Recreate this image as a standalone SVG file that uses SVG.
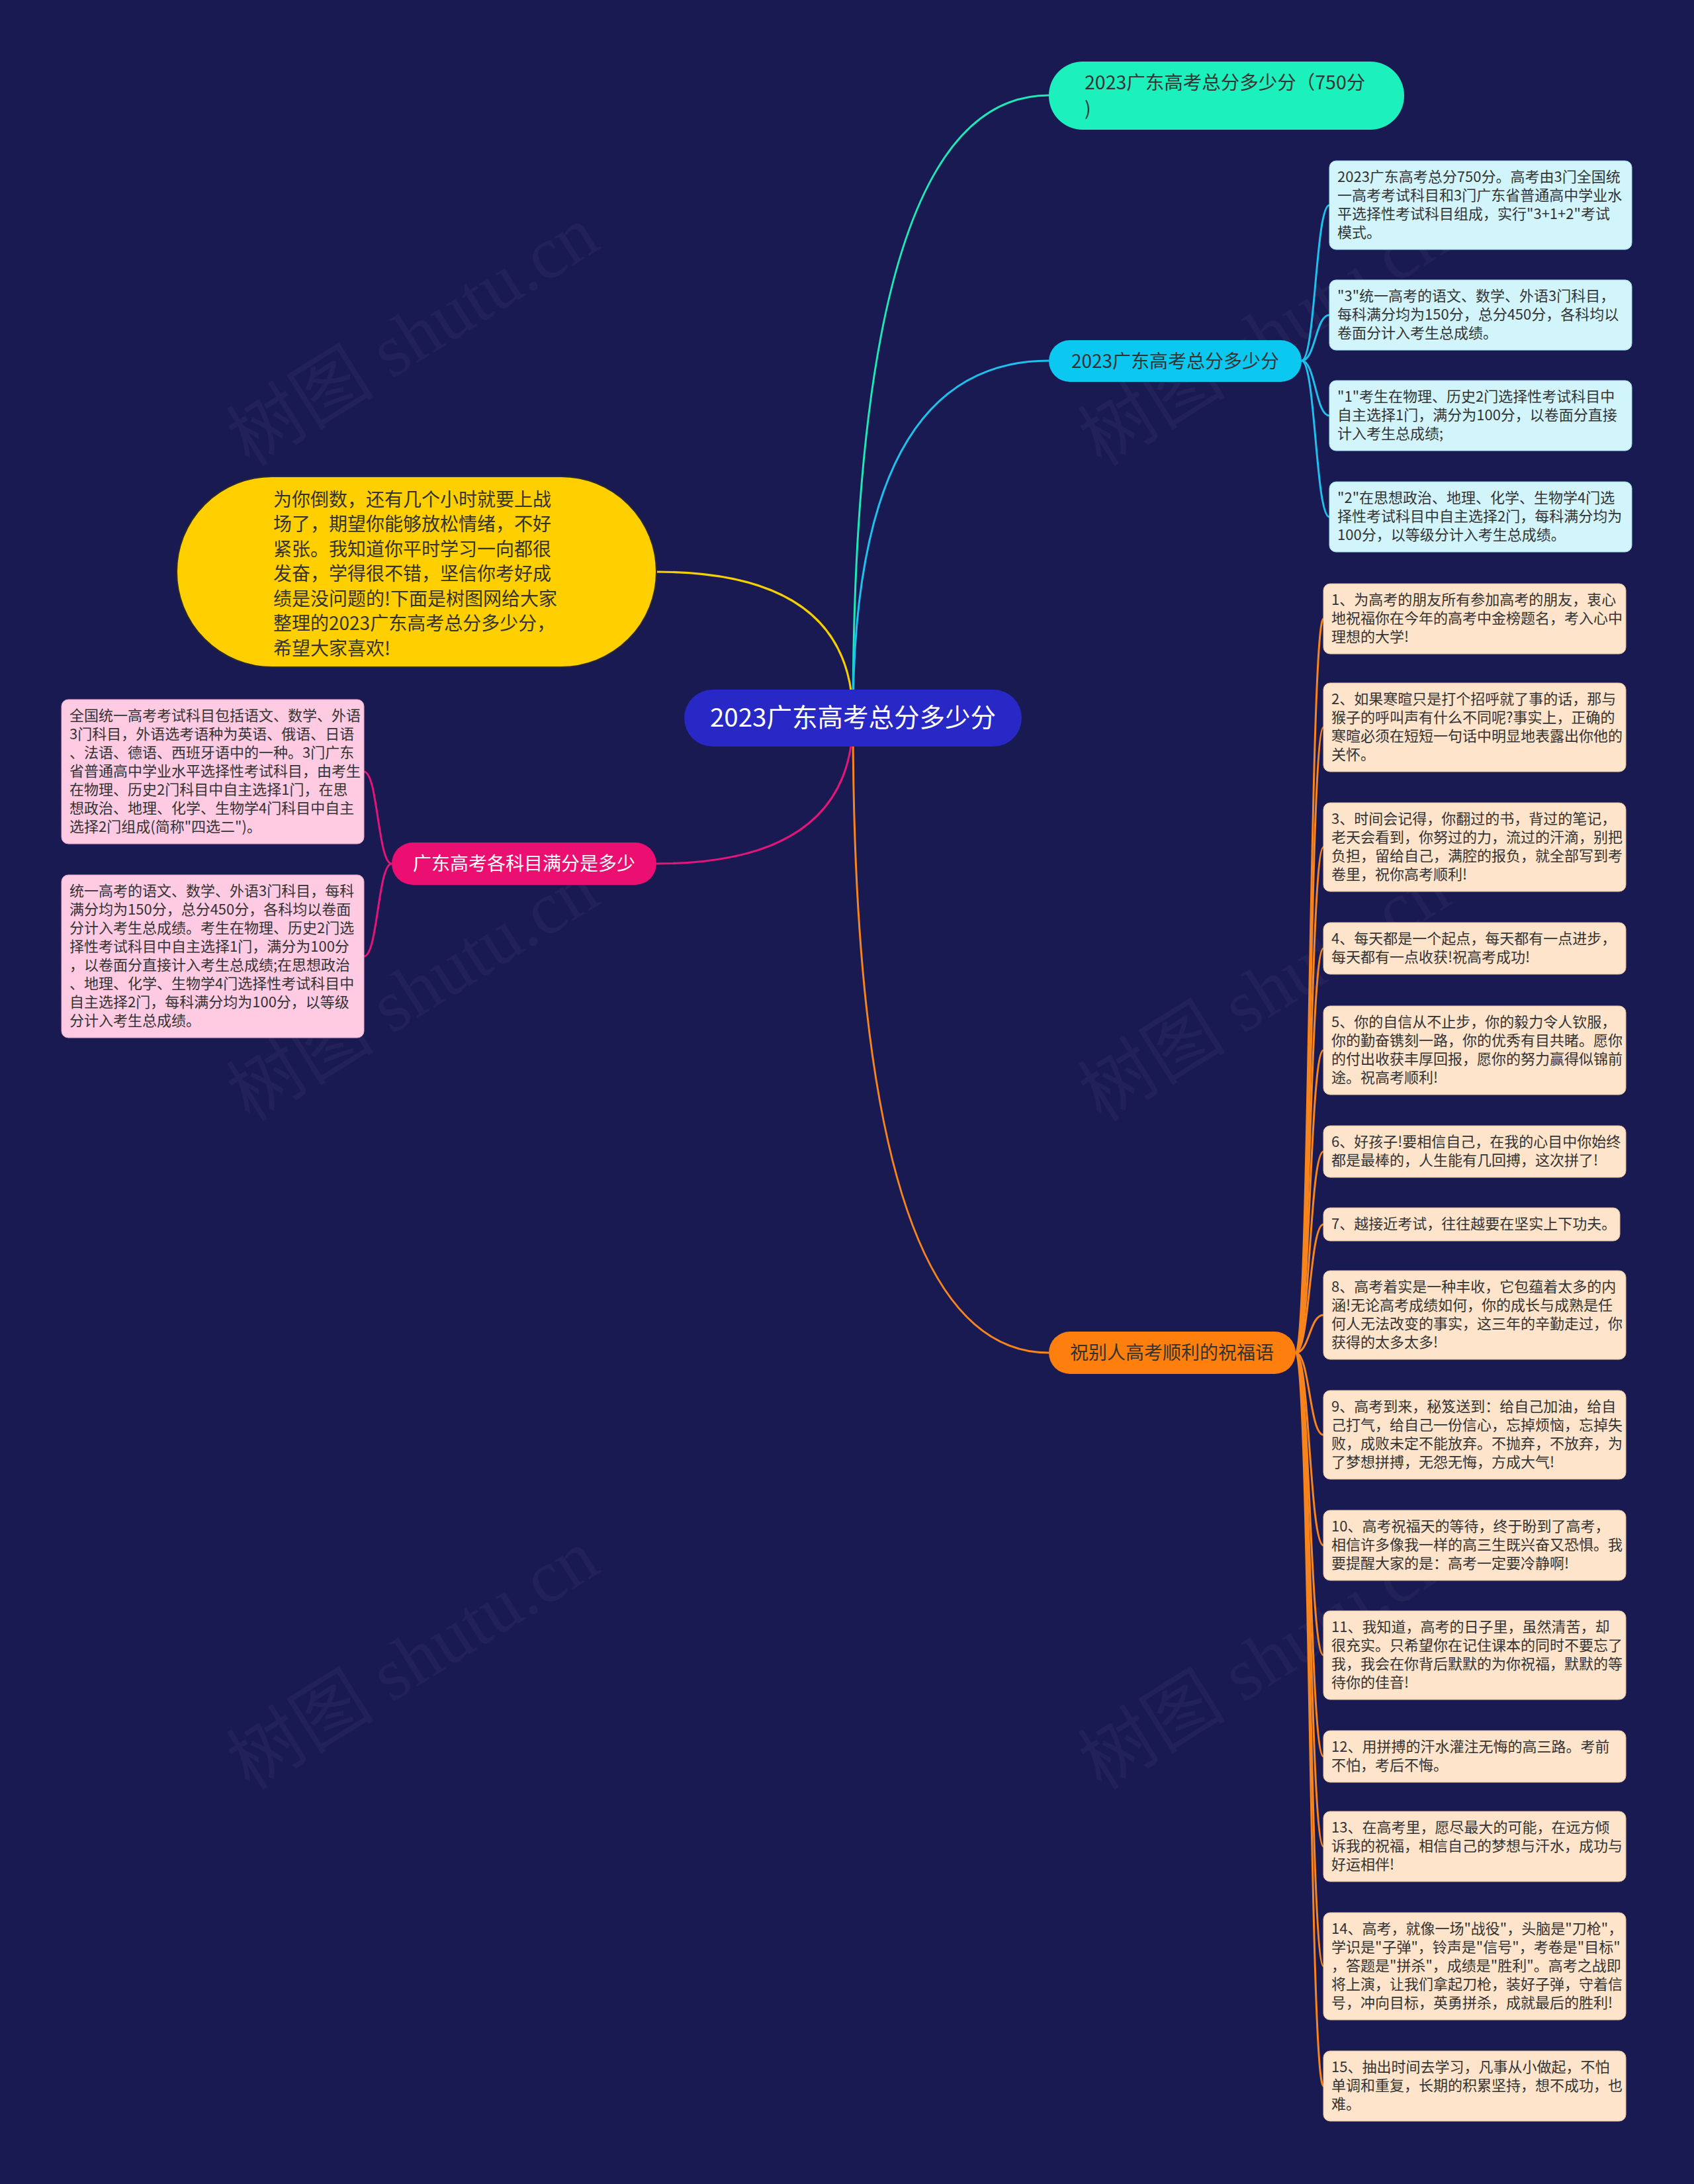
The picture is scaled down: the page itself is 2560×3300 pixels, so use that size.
<svg xmlns="http://www.w3.org/2000/svg" width="2560" height="3300" viewBox="0 0 2560 3300">
<style>
.wm{font-family:"Liberation Serif","Noto Sans CJK SC",serif;font-size:112px;fill:#ffffff;fill-opacity:0.04;text-anchor:middle}
.lt{font-family:"Noto Sans CJK SC","Noto Sans",sans-serif;font-size:22px;fill:#333333}
.l1{font-family:"Noto Sans CJK SC","Noto Sans",sans-serif;font-size:28px;text-anchor:middle}
.e{fill:none;stroke-width:3}
.cy{fill:#d2f5fc;stroke:#9edcec;stroke-width:1}
.pk{fill:#fecbe3;stroke:#e9a3c6;stroke-width:1}
.or{fill:#fde4cb;stroke:#e8c29c;stroke-width:1}
</style>
<rect x="0" y="0" width="2560" height="3300" fill="#1a1a52"/>
<g id="watermark">
<text class="wm" transform="translate(644 540) rotate(-32)">树图 shutu.cn</text>
<text class="wm" transform="translate(644 1530) rotate(-32)">树图 shutu.cn</text>
<text class="wm" transform="translate(644 2540) rotate(-32)">树图 shutu.cn</text>
<text class="wm" transform="translate(1931 540) rotate(-32)">树图 shutu.cn</text>
<text class="wm" transform="translate(1931 1530) rotate(-32)">树图 shutu.cn</text>
<text class="wm" transform="translate(1931 2540) rotate(-32)">树图 shutu.cn</text>
</g>
<g id="connectors">
<path class="e" stroke="#1de9b6" stroke-width="4" d="M1289 1085 Q1289 144 1585 144"/>
<path class="e" stroke="#1ec0ec" stroke-width="4" d="M1289 1085 Q1289 545 1585 545"/>
<path class="e" stroke="#f5d000" stroke-width="4" d="M1289 1085 Q1289 864 992 864"/>
<path class="e" stroke="#e3157a" stroke-width="4" d="M1289 1085 Q1289 1305 992 1305"/>
<path class="e" stroke="#f7841c" stroke-width="4" d="M1289 1085 Q1289 2044 1585 2044"/>
<g stroke="#1ec0ec">
<path class="e" d="M1967 545 C1988 545 1988 310 2009 310"/>
<path class="e" d="M1967 545 C1988 545 1988 476 2009 476"/>
<path class="e" d="M1967 545 C1988 545 1988 628 2009 628"/>
<path class="e" d="M1967 545 C1988 545 1988 781 2009 781"/>
</g>
<g stroke="#e3157a">
<path class="e" d="M592 1305 C571 1305 571 1166 550 1166"/>
<path class="e" d="M592 1305 C571 1305 571 1445 550 1445"/>
</g>
<g stroke="#f7841c">
<path class="e" d="M1958 2044 C1979 2044 1979 935 2000 935"/>
<path class="e" d="M1958 2044 C1979 2044 1979 1099 2000 1099"/>
<path class="e" d="M1958 2044 C1979 2044 1979 1280 2000 1280"/>
<path class="e" d="M1958 2044 C1979 2044 1979 1433 2000 1433"/>
<path class="e" d="M1958 2044 C1979 2044 1979 1587 2000 1587"/>
<path class="e" d="M1958 2044 C1979 2044 1979 1740 2000 1740"/>
<path class="e" d="M1958 2044 C1979 2044 1979 1850 2000 1850"/>
<path class="e" d="M1958 2044 C1979 2044 1979 1987 2000 1987"/>
<path class="e" d="M1958 2044 C1979 2044 1979 2168 2000 2168"/>
<path class="e" d="M1958 2044 C1979 2044 1979 2335 2000 2335"/>
<path class="e" d="M1958 2044 C1979 2044 1979 2501 2000 2501"/>
<path class="e" d="M1958 2044 C1979 2044 1979 2654 2000 2654"/>
<path class="e" d="M1958 2044 C1979 2044 1979 2790 2000 2790"/>
<path class="e" d="M1958 2044 C1979 2044 1979 2971 2000 2971"/>
<path class="e" d="M1958 2044 C1979 2044 1979 3152 2000 3152"/>
</g>
</g>
<g id="root">
<rect x="1034" y="1042" width="510" height="86" rx="43" fill="#2828c6"/>
<text x="1289" y="1098" font-family="Noto Sans CJK SC, Noto Sans, sans-serif" font-size="38.5" fill="#ffffff" text-anchor="middle">2023广东高考总分多少分</text>
</g>
<g id="n-total750">
<rect x="1585" y="93" width="537" height="103" rx="51" fill="#1cf0bc"/>
<text font-family="Noto Sans CJK SC, Noto Sans, sans-serif" font-size="28.5" fill="#333333"><tspan x="1639" y="135">2023广东高考总分多少分（750分</tspan><tspan x="1639" y="174">)</tspan></text>
</g>
<g id="n-total">
<rect x="1585" y="514" width="382" height="63" rx="31.5" fill="#0bc8f0"/>
<text class="l1" x="1776" y="556" font-size="30" fill="#333333">2023广东高考总分多少分</text>
</g>
<g id="c1"><rect class="cy" x="2009" y="243" width="457" height="134" rx="10"/>
<text class="lt"><tspan x="2021" y="275">2023广东高考总分750分。高考由3门全国统</tspan><tspan x="2021" y="303">一高考考试科目和3门广东省普通高中学业水</tspan><tspan x="2021" y="331">平选择性考试科目组成，实行"3+1+2"考试</tspan><tspan x="2021" y="359">模式。</tspan></text></g>
<g id="c2"><rect class="cy" x="2009" y="423" width="457" height="106" rx="10"/>
<text class="lt"><tspan x="2021" y="455">"3"统一高考的语文、数学、外语3门科目，</tspan><tspan x="2021" y="483">每科满分均为150分，总分450分，各科均以</tspan><tspan x="2021" y="511">卷面分计入考生总成绩。</tspan></text></g>
<g id="c3"><rect class="cy" x="2009" y="575" width="457" height="106" rx="10"/>
<text class="lt"><tspan x="2021" y="607">"1"考生在物理、历史2门选择性考试科目中</tspan><tspan x="2021" y="635">自主选择1门，满分为100分，以卷面分直接</tspan><tspan x="2021" y="663">计入考生总成绩;</tspan></text></g>
<g id="c4"><rect class="cy" x="2009" y="728" width="457" height="106" rx="10"/>
<text class="lt"><tspan x="2021" y="760">"2"在思想政治、地理、化学、生物学4门选</tspan><tspan x="2021" y="788">择性考试科目中自主选择2门，每科满分均为</tspan><tspan x="2021" y="816">100分，以等级分计入考生总成绩。</tspan></text></g>
<g id="n-intro">
<rect x="267" y="720" width="725" height="288" rx="144" fill="#ffcf00" stroke="#2a2a2a" stroke-width="2"/>
<text font-family="Noto Sans CJK SC, Noto Sans, sans-serif" font-size="28" fill="#333333"><tspan x="413" y="765">为你倒数，还有几个小时就要上战</tspan><tspan x="413" y="802">场了，期望你能够放松情绪，不好</tspan><tspan x="413" y="840">紧张。我知道你平时学习一向都很</tspan><tspan x="413" y="877">发奋，学得很不错，坚信你考好成</tspan><tspan x="413" y="915">绩是没问题的!下面是树图网给大家</tspan><tspan x="413" y="952">整理的2023广东高考总分多少分，</tspan><tspan x="413" y="990">希望大家喜欢!</tspan></text>
</g>
<g id="n-subjects">
<rect x="592" y="1273" width="400" height="64" rx="32" fill="#ea0f70"/>
<text class="l1" x="792" y="1315" fill="#ffffff">广东高考各科目满分是多少</text>
</g>
<g id="p1"><rect class="pk" x="93" y="1057" width="457" height="218" rx="10"/>
<text class="lt"><tspan x="105" y="1089">全国统一高考考试科目包括语文、数学、外语</tspan><tspan x="105" y="1117">3门科目，外语选考语种为英语、俄语、日语</tspan><tspan x="105" y="1145">、法语、德语、西班牙语中的一种。3门广东</tspan><tspan x="105" y="1173">省普通高中学业水平选择性考试科目，由考生</tspan><tspan x="105" y="1201">在物理、历史2门科目中自主选择1门，在思</tspan><tspan x="105" y="1229">想政治、地理、化学、生物学4门科目中自主</tspan><tspan x="105" y="1257">选择2门组成(简称"四选二")。</tspan></text></g>
<g id="p2"><rect class="pk" x="93" y="1322" width="457" height="246" rx="10"/>
<text class="lt"><tspan x="105" y="1354">统一高考的语文、数学、外语3门科目，每科</tspan><tspan x="105" y="1382">满分均为150分，总分450分，各科均以卷面</tspan><tspan x="105" y="1410">分计入考生总成绩。考生在物理、历史2门选</tspan><tspan x="105" y="1438">择性考试科目中自主选择1门，满分为100分</tspan><tspan x="105" y="1466">，以卷面分直接计入考生总成绩;在思想政治</tspan><tspan x="105" y="1494">、地理、化学、生物学4门选择性考试科目中</tspan><tspan x="105" y="1522">自主选择2门，每科满分均为100分，以等级</tspan><tspan x="105" y="1550">分计入考生总成绩。</tspan></text></g>
<g id="n-wishes">
<rect x="1585" y="2012" width="373" height="64" rx="32" fill="#ff7f0e"/>
<text class="l1" x="1771" y="2054" fill="#333333">祝别人高考顺利的祝福语</text>
</g>
<g id="o1"><rect class="or" x="2000" y="882" width="457" height="106" rx="10"/>
<text class="lt"><tspan x="2012" y="914">1、为高考的朋友所有参加高考的朋友，衷心</tspan><tspan x="2012" y="942">地祝福你在今年的高考中金榜题名，考入心中</tspan><tspan x="2012" y="970">理想的大学!</tspan></text></g>
<g id="o2"><rect class="or" x="2000" y="1032" width="457" height="134" rx="10"/>
<text class="lt"><tspan x="2012" y="1064">2、如果寒暄只是打个招呼就了事的话，那与</tspan><tspan x="2012" y="1092">猴子的呼叫声有什么不同呢?事实上，正确的</tspan><tspan x="2012" y="1120">寒暄必须在短短一句话中明显地表露出你他的</tspan><tspan x="2012" y="1148">关怀。</tspan></text></g>
<g id="o3"><rect class="or" x="2000" y="1213" width="457" height="134" rx="10"/>
<text class="lt"><tspan x="2012" y="1245">3、时间会记得，你翻过的书，背过的笔记，</tspan><tspan x="2012" y="1273">老天会看到，你努过的力，流过的汗滴，别把</tspan><tspan x="2012" y="1301">负担，留给自己，满腔的报负，就全部写到考</tspan><tspan x="2012" y="1329">卷里，祝你高考顺利!</tspan></text></g>
<g id="o4"><rect class="or" x="2000" y="1394" width="457" height="78" rx="10"/>
<text class="lt"><tspan x="2012" y="1426">4、每天都是一个起点，每天都有一点进步，</tspan><tspan x="2012" y="1454">每天都有一点收获!祝高考成功!</tspan></text></g>
<g id="o5"><rect class="or" x="2000" y="1520" width="457" height="134" rx="10"/>
<text class="lt"><tspan x="2012" y="1552">5、你的自信从不止步，你的毅力令人钦服，</tspan><tspan x="2012" y="1580">你的勤奋镌刻一路，你的优秀有目共睹。愿你</tspan><tspan x="2012" y="1608">的付出收获丰厚回报，愿你的努力赢得似锦前</tspan><tspan x="2012" y="1636">途。祝高考顺利!</tspan></text></g>
<g id="o6"><rect class="or" x="2000" y="1701" width="457" height="78" rx="10"/>
<text class="lt"><tspan x="2012" y="1733">6、好孩子!要相信自己，在我的心目中你始终</tspan><tspan x="2012" y="1761">都是最棒的，人生能有几回搏，这次拼了!</tspan></text></g>
<g id="o7"><rect class="or" x="2000" y="1825" width="448" height="50" rx="10"/>
<text class="lt"><tspan x="2012" y="1857">7、越接近考试，往往越要在坚实上下功夫。</tspan></text></g>
<g id="o8"><rect class="or" x="2000" y="1920" width="457" height="134" rx="10"/>
<text class="lt"><tspan x="2012" y="1952">8、高考着实是一种丰收，它包蕴着太多的内</tspan><tspan x="2012" y="1980">涵!无论高考成绩如何，你的成长与成熟是任</tspan><tspan x="2012" y="2008">何人无法改变的事实，这三年的辛勤走过，你</tspan><tspan x="2012" y="2036">获得的太多太多!</tspan></text></g>
<g id="o9"><rect class="or" x="2000" y="2101" width="457" height="134" rx="10"/>
<text class="lt"><tspan x="2012" y="2133">9、高考到来，秘笈送到：给自己加油，给自</tspan><tspan x="2012" y="2161">己打气，给自己一份信心，忘掉烦恼，忘掉失</tspan><tspan x="2012" y="2189">败，成败未定不能放弃。不抛弃，不放弃，为</tspan><tspan x="2012" y="2217">了梦想拼搏，无怨无悔，方成大气!</tspan></text></g>
<g id="o10"><rect class="or" x="2000" y="2282" width="457" height="106" rx="10"/>
<text class="lt"><tspan x="2012" y="2314">10、高考祝福天的等待，终于盼到了高考，</tspan><tspan x="2012" y="2342">相信许多像我一样的高三生既兴奋又恐惧。我</tspan><tspan x="2012" y="2370">要提醒大家的是：高考一定要冷静啊!</tspan></text></g>
<g id="o11"><rect class="or" x="2000" y="2434" width="457" height="134" rx="10"/>
<text class="lt"><tspan x="2012" y="2466">11、我知道，高考的日子里，虽然清苦，却</tspan><tspan x="2012" y="2494">很充实。只希望你在记住课本的同时不要忘了</tspan><tspan x="2012" y="2522">我，我会在你背后默默的为你祝福，默默的等</tspan><tspan x="2012" y="2550">待你的佳音!</tspan></text></g>
<g id="o12"><rect class="or" x="2000" y="2615" width="457" height="78" rx="10"/>
<text class="lt"><tspan x="2012" y="2647">12、用拼搏的汗水灌注无悔的高三路。考前</tspan><tspan x="2012" y="2675">不怕，考后不悔。</tspan></text></g>
<g id="o13"><rect class="or" x="2000" y="2737" width="457" height="106" rx="10"/>
<text class="lt"><tspan x="2012" y="2769">13、在高考里，愿尽最大的可能，在远方倾</tspan><tspan x="2012" y="2797">诉我的祝福，相信自己的梦想与汗水，成功与</tspan><tspan x="2012" y="2825">好运相伴!</tspan></text></g>
<g id="o14"><rect class="or" x="2000" y="2890" width="457" height="162" rx="10"/>
<text class="lt"><tspan x="2012" y="2922">14、高考，就像一场"战役"，头脑是"刀枪"，</tspan><tspan x="2012" y="2950">学识是"子弹"，铃声是"信号"，考卷是"目标"</tspan><tspan x="2012" y="2978">，答题是"拼杀"，成绩是"胜利"。高考之战即</tspan><tspan x="2012" y="3006">将上演，让我们拿起刀枪，装好子弹，守着信</tspan><tspan x="2012" y="3034">号，冲向目标，英勇拼杀，成就最后的胜利!</tspan></text></g>
<g id="o15"><rect class="or" x="2000" y="3099" width="457" height="106" rx="10"/>
<text class="lt"><tspan x="2012" y="3131">15、抽出时间去学习，凡事从小做起，不怕</tspan><tspan x="2012" y="3159">单调和重复，长期的积累坚持，想不成功，也</tspan><tspan x="2012" y="3187">难。</tspan></text></g>
</svg>
